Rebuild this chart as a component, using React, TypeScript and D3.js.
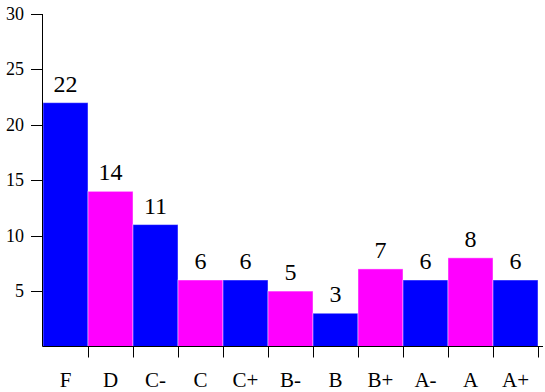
import React from 'react';
import { scaleBand, scaleLinear } from 'd3';

const grades = ['F', 'D', 'C-', 'C', 'C+', 'B-', 'B', 'B+', 'A-', 'A', 'A+'];
const counts = [22, 14, 11, 6, 6, 5, 3, 7, 6, 8, 6];
const yTicks = [5, 10, 15, 20, 25, 30];
const barColors = ['#0000ff', '#ff00ff'];

const width = 545;
const height = 392;
const left = 43;
const bottom = 346.5;

const x = scaleBand<string>().domain(grades).range([left, 538]).padding(0);
const y = scaleLinear().domain([0, 30]).range([bottom, 14]);

const App = () => {
  const bw = x.bandwidth();
  return (
    <svg
      width={width}
      height={height}
      style={{ position: 'absolute', left: 0, top: 0, background: '#fff' }}
    >
      {/* bars */}
      {counts.map((d, i) => (
        <rect
          key={'b' + grades[i]}
          x={x(grades[i])}
          y={y(d)}
          width={bw}
          height={bottom - y(d)}
          fill={barColors[i % 2]}
          stroke="rgba(255,255,255,0.45)"
          strokeWidth={1}
        />
      ))}

      {/* value labels */}
      {counts.map((d, i) => (
        <text
          key={'v' + grades[i]}
          x={x(grades[i])! + bw / 2}
          y={y(d) - 11}
          textAnchor="middle"
          style={{ fontFamily: '"Liberation Serif"', fontSize: 24 }}
        >
          {String(d)}
        </text>
      ))}

      {/* y axis */}
      <line x1={42.5} x2={42.5} y1={y(30)} y2={bottom} stroke="#000" />
      {yTicks.map(t => (
        <line
          key={'yt' + t}
          x1={31}
          x2={42.5}
          y1={Math.round(y(t)) + 0.5}
          y2={Math.round(y(t)) + 0.5}
          stroke="#000"
        />
      ))}
      {yTicks.map(t => (
        <text
          key={'yl' + t}
          x={24}
          y={y(t) + 6}
          textAnchor="end"
          style={{ fontFamily: '"Liberation Serif"', fontSize: 18 }}
        >
          {String(t)}
        </text>
      ))}

      {/* x axis */}
      <line x1={42.5} x2={543} y1={bottom} y2={bottom} stroke="#000" />
      {grades.map(g => {
        const tx = Math.round(x(g)! + bw) + 0.5;
        return <line key={'xt' + g} x1={tx} x2={tx} y1={bottom} y2={bottom + 11} stroke="#000" />;
      })}
      {grades.map(g => (
        <text
          key={'xl' + g}
          x={x(g)! + bw / 2}
          y={387}
          textAnchor="middle"
          style={{ fontFamily: '"Liberation Serif"', fontSize: 21 }}
        >
          {g}
        </text>
      ))}
    </svg>
  );
};

export default App;
